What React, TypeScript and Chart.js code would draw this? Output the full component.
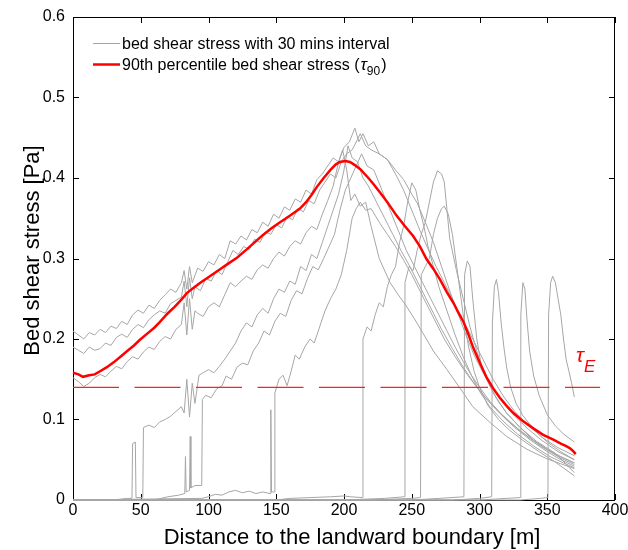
import React, { useEffect, useRef } from "react";
import { Chart, registerables } from "chart.js";
Chart.register(...registerables);

type Pt = [number, number];

const xTicks = [0, 50, 100, 150, 200, 250, 300, 350, 400];
const yTicks = [0, 0.1, 0.2, 0.3, 0.4, 0.5, 0.6];
const tauE = 0.14;
const tauELineX = [0, 389];

const curveA: Pt[] = [[0,0.21],[4,0.205],[8,0.2],[12,0.208],[16,0.205],[20,0.212],[24,0.208],[28,0.216],[32,0.213],[36,0.222],[40,0.218],[44,0.23],[48,0.236],[52,0.232],[56,0.242],[60,0.238],[64,0.248],[68,0.255],[72,0.262],[76,0.258],[80,0.27],[82,0.285],[84,0.262],[86,0.29],[88,0.27],[92,0.288],[96,0.284],[100,0.296],[104,0.292],[108,0.305],[112,0.3],[116,0.322],[120,0.318],[124,0.328],[128,0.323],[132,0.336],[136,0.332],[140,0.345],[144,0.34],[148,0.355],[152,0.35],[156,0.364],[160,0.36],[164,0.374],[168,0.37],[172,0.385],[176,0.38],[180,0.398],[184,0.405],[188,0.415],[192,0.425],[196,0.42],[200,0.438],[204,0.445],[208,0.462],[211,0.445],[214,0.455],[218,0.44],[222,0.445],[226,0.43],[232,0.423],[238,0.405],[244,0.385],[250,0.36],[256,0.335],[262,0.312],[268,0.29],[274,0.27],[280,0.25],[286,0.228],[292,0.21],[298,0.19],[304,0.17],[310,0.15],[318,0.128],[326,0.11],[336,0.093],[346,0.078],[358,0.065],[370,0.055]];

const curveB: Pt[] = [[0,0.19],[4,0.186],[8,0.182],[12,0.19],[16,0.186],[20,0.188],[24,0.195],[28,0.192],[32,0.202],[36,0.206],[40,0.202],[44,0.212],[48,0.218],[52,0.214],[56,0.224],[60,0.23],[64,0.235],[68,0.232],[72,0.244],[76,0.248],[80,0.252],[82,0.272],[84,0.24],[86,0.276],[88,0.25],[90,0.265],[94,0.26],[98,0.275],[102,0.272],[106,0.285],[110,0.28],[114,0.295],[118,0.31],[122,0.305],[126,0.315],[130,0.311],[134,0.324],[138,0.32],[142,0.333],[146,0.33],[150,0.342],[154,0.338],[158,0.352],[162,0.348],[166,0.362],[170,0.358],[174,0.372],[178,0.368],[182,0.385],[186,0.395],[190,0.405],[194,0.4],[198,0.42],[202,0.43],[206,0.435],[210,0.448],[212,0.455],[216,0.44],[220,0.435],[226,0.43],[232,0.423],[238,0.41],[244,0.398],[250,0.38],[254,0.369],[260,0.345],[266,0.32],[272,0.29],[278,0.26],[284,0.232],[290,0.205],[296,0.18],[302,0.16],[310,0.138],[318,0.12],[326,0.104],[336,0.088],[346,0.074],[358,0.06],[370,0.05]];

const curveC: Pt[] = [[0,0.152],[4,0.147],[8,0.141],[12,0.145],[16,0.152],[20,0.156],[24,0.153],[28,0.16],[32,0.166],[36,0.163],[40,0.172],[44,0.178],[48,0.175],[52,0.184],[56,0.19],[60,0.187],[64,0.197],[68,0.203],[72,0.2],[76,0.212],[80,0.218],[82,0.245],[84,0.205],[86,0.25],[88,0.212],[90,0.235],[92,0.232],[96,0.228],[100,0.24],[104,0.245],[108,0.24],[112,0.255],[116,0.27],[120,0.265],[124,0.272],[128,0.278],[132,0.274],[136,0.286],[140,0.292],[144,0.288],[148,0.3],[152,0.308],[156,0.303],[160,0.315],[164,0.322],[168,0.318],[172,0.332],[176,0.34],[180,0.336],[184,0.355],[188,0.372],[192,0.39],[196,0.42],[199,0.435],[202,0.41],[205,0.372],[208,0.38],[212,0.365],[216,0.37],[220,0.34],[226,0.3],[234,0.27],[240,0.255],[246,0.241],[252,0.225],[258,0.208],[266,0.185],[276,0.162],[286,0.138],[295,0.116],[308,0.096],[320,0.079],[335,0.063],[350,0.051],[360,0.045],[370,0.039]];

const curveD: Pt[] = [[0,0],[30,0],[40,0.002],[43.5,0.002],[44,0.07],[46,0.072],[46.5,0.003],[51.5,0.003],[52,0.09],[56,0.093],[60,0.09],[64,0.097],[68,0.1],[72,0.104],[76,0.11],[80,0.116],[82,0.108],[84,0.15],[86,0.103],[88,0.145],[90,0.12],[93,0.155],[96,0.158],[100,0.162],[104,0.158],[108,0.166],[112,0.175],[116,0.185],[120,0.195],[124,0.21],[128,0.22],[132,0.215],[136,0.23],[140,0.238],[144,0.232],[148,0.25],[152,0.262],[156,0.258],[160,0.272],[164,0.268],[168,0.29],[172,0.285],[176,0.305],[180,0.3],[184,0.32],[188,0.34],[192,0.36],[196,0.38],[200,0.41],[203,0.44],[206,0.425],[210,0.42],[214,0.4],[218,0.39],[224,0.37],[230,0.35],[236,0.33],[242,0.31],[248,0.292],[254,0.272],[260,0.252],[266,0.232],[272,0.212],[280,0.188],[288,0.165],[296,0.145],[304,0.128],[312,0.113],[320,0.1],[330,0.086],[340,0.074],[350,0.063],[360,0.054],[370,0.046]];

const curveE: Pt[] = [[0,0],[60,0],[70,0.004],[78,0.006],[82.5,0.008],[83,0.054],[83.5,0.01],[86,0.012],[86.5,0.079],[87,0.015],[90,0.018],[95,0.018],[95.5,0.125],[98,0.13],[102,0.127],[106,0.138],[110,0.142],[113,0.154],[117,0.15],[121,0.165],[125,0.17],[129,0.168],[133,0.185],[137,0.195],[141,0.21],[145,0.205],[149,0.222],[153,0.232],[157,0.228],[161,0.248],[165,0.26],[169,0.256],[173,0.275],[177,0.29],[181,0.286],[185,0.3],[189,0.315],[193,0.33],[197,0.36],[201,0.385],[205,0.4],[209,0.415],[213,0.43],[217,0.415],[222,0.41],[228,0.385],[234,0.36],[240,0.335],[246,0.31],[252,0.29],[258,0.27],[264,0.25],[270,0.23],[276,0.21],[282,0.19],[288,0.172],[294,0.155],[300,0.14],[308,0.122],[316,0.107],[326,0.092],[336,0.078],[346,0.066],[358,0.055],[370,0.046]];

const curveF: Pt[] = [[0,0],[95,0.002],[100,0.004],[105,0.007],[110,0.006],[115,0.01],[120,0.012],[125,0.009],[130,0.011],[135,0.008],[140,0.01],[145.5,0.008],[146,0.112],[146.5,0.01],[148.5,0.01],[149,0.133],[152,0.15],[155,0.155],[158,0.142],[161,0.16],[164,0.18],[167,0.175],[171,0.19],[175,0.2],[178,0.195],[182,0.215],[186,0.235],[190,0.25],[194,0.262],[198,0.28],[202,0.31],[206,0.35],[209,0.362],[212,0.37],[216,0.36],[220,0.362],[226,0.345],[232,0.33],[238,0.315],[244,0.298],[250,0.28],[256,0.26],[262,0.24],[268,0.22],[274,0.2],[282,0.178],[290,0.158],[298,0.14],[306,0.124],[316,0.106],[326,0.09],[338,0.074],[350,0.06],[360,0.05],[370,0.042]];

const curveG: Pt[] = [[0,0],[150,0],[160,0.002],[175,0.003],[190,0.004],[200,0.005],[205,0.004],[213.5,0.003],[214,0.2],[217,0.215],[220,0.21],[223,0.23],[226,0.245],[229,0.24],[232,0.265],[235,0.28],[238,0.29],[241,0.32],[244,0.34],[247,0.37],[250,0.394],[253,0.385],[256,0.36],[259,0.34],[262,0.315],[266,0.29],[270,0.265],[276,0.235],[282,0.205],[288,0.178],[294,0.155],[300,0.135],[308,0.115],[318,0.097],[328,0.082],[340,0.067],[352,0.054],[362,0.046],[370,0.04]];

const curveH: Pt[] = [[0,0],[200,0],[230,0.002],[244.5,0.004],[245,0.27],[248,0.29],[251,0.285],[254,0.31],[257,0.33],[260,0.345],[263,0.37],[266,0.395],[269,0.409],[272,0.405],[274,0.395],[276,0.36],[278,0.325],[283,0.285],[288,0.25],[293,0.215],[298,0.185],[304,0.155],[312,0.128],[320,0.108],[330,0.09],[342,0.073],[356,0.058],[370,0.034]];

const curveI: Pt[] = [[0,0],[220,0],[250,0.002],[256.5,0.003],[257,0.28],[260,0.29],[263,0.3],[266,0.33],[269,0.35],[272,0.362],[274,0.365],[277,0.355],[280,0.33],[284,0.28],[288,0.23],[292,0.19],[296,0.16],[300,0.14],[306,0.118],[314,0.1],[322,0.087],[332,0.074],[344,0.06],[356,0.047],[370,0.03]];

const curveJ: Pt[] = [[0,0],[250,0],[270,0.002],[288.5,0.004],[289,0.28],[291,0.297],[293,0.29],[295,0.25],[298,0.2],[301,0.17],[304,0.155],[308,0.14],[314,0.122],[320,0.108],[330,0.09],[340,0.074],[350,0.062],[360,0.052],[370,0.044]];

const curveK: Pt[] = [[0,0],[280,0],[300,0.002],[309,0.004],[309.5,0.22],[311,0.265],[312.5,0.274],[314,0.258],[316,0.22],[318,0.19],[320,0.165],[323,0.14],[327,0.12],[332,0.105],[340,0.088],[350,0.072],[360,0.06],[370,0.05]];

const curveL: Pt[] = [[0,0],[300,0],[320,0.002],[330,0.003],[330.5,0.23],[332,0.27],[333.5,0.262],[335,0.225],[337,0.185],[340,0.154],[344,0.13],[350,0.106],[356,0.092],[362,0.082],[370,0.072]];

const curveM: Pt[] = [[0,0],[330,0],[345,0.002],[350.5,0.003],[351,0.23],[352.5,0.27],[354,0.278],[356,0.27],[358,0.25],[360,0.23],[362,0.2],[364,0.174],[366,0.16],[368,0.145],[370,0.128]];

const tau90: Pt[] = [[0,0.158],[4,0.156],[7.4,0.153],[12,0.155],[16,0.156],[20,0.16],[25,0.165],[30,0.171],[35,0.178],[40,0.185],[45,0.192],[49.4,0.199],[55,0.207],[60,0.214],[64,0.221],[70,0.232],[75,0.24],[80,0.249],[84,0.257],[90,0.265],[95,0.271],[101,0.278],[108,0.286],[114,0.293],[121,0.301],[128,0.311],[134,0.32],[140,0.329],[146,0.337],[152,0.344],[160,0.353],[167.5,0.362],[172,0.37],[176,0.379],[180,0.389],[185,0.4],[190,0.41],[194,0.417],[197,0.42],[201,0.421],[204.4,0.42],[208,0.416],[212,0.411],[218,0.4],[222,0.392],[226.6,0.382],[232,0.37],[238.9,0.353],[245,0.34],[251,0.328],[256,0.315],[261,0.299],[266,0.287],[270.8,0.274],[276,0.258],[280.7,0.245],[284,0.234],[288,0.222],[292,0.205],[295.4,0.189],[300.4,0.17],[305,0.153],[310,0.139],[315,0.127],[320,0.117],[325,0.108],[332,0.098],[339.7,0.089],[347,0.081],[354.5,0.075],[360,0.07],[364,0.067],[367,0.064],[369.5,0.06],[371,0.057]];

const grayCurves: Pt[][] = [curveA, curveB, curveC, curveD, curveE, curveF, curveG, curveH, curveI, curveJ, curveK, curveL, curveM];

const legendGray = "bed shear stress with 30 mins interval";
const legendRed = "90th percentile bed shear stress (";
const xTitle = "Distance to the landward boundary [m]";
const yTitle = "Bed shear stress [Pa]";

const FONT = "'Liberation Sans', Arial, sans-serif";
const GRAY = "#a6a6a6";

const framePlugin = {
  id: "frame",
  beforeDatasetsDraw(chart: any) {
    const { ctx, chartArea: a } = chart;
    const xs = chart.scales.x;
    const ys = chart.scales.y;
    ctx.save();
    ctx.strokeStyle = "#000";
    ctx.lineWidth = 1;
    ctx.strokeRect(a.left + 0.5, a.top + 0.5, a.right - a.left - 1, a.bottom - a.top);
    ctx.beginPath();
    for (const v of xTicks) {
      const p = Math.round(xs.getPixelForValue(v)) + 0.5;
      ctx.moveTo(p, a.bottom);
      ctx.lineTo(p, a.bottom - 6);
      ctx.moveTo(p, a.top);
      ctx.lineTo(p, a.top + 6);
    }
    for (const v of yTicks) {
      const p = Math.round(ys.getPixelForValue(v)) + 0.5;
      ctx.moveTo(a.left, p);
      ctx.lineTo(a.left + 6, p);
      ctx.moveTo(a.right, p);
      ctx.lineTo(a.right - 6, p);
    }
    ctx.stroke();
    ctx.restore();
  },
  afterDatasetsDraw(chart: any) {
    const { ctx, chartArea: a } = chart;
    const xs = chart.scales.x;
    const ys = chart.scales.y;
    ctx.save();
    ctx.fillStyle = "#000";
    ctx.font = `16px ${FONT}`;
    ctx.textAlign = "center";
    ctx.textBaseline = "top";
    for (const v of xTicks) {
      ctx.fillText(String(v), xs.getPixelForValue(v), a.bottom + 3);
    }
    ctx.textAlign = "right";
    ctx.textBaseline = "middle";
    for (const v of yTicks) {
      ctx.fillText(String(v), a.left - 8, ys.getPixelForValue(v));
    }
    ctx.font = `22px ${FONT}`;
    ctx.textAlign = "center";
    ctx.textBaseline = "middle";
    ctx.fillText(xTitle, (a.left + a.right) / 2 + 8, 538);
    ctx.save();
    ctx.translate(33, (a.top + a.bottom) / 2 - 8);
    ctx.rotate(-Math.PI / 2);
    ctx.fillText(yTitle, 0, 0);
    ctx.restore();

    // legend
    ctx.lineWidth = 1;
    ctx.strokeStyle = GRAY;
    ctx.beginPath();
    ctx.moveTo(93, 43.5);
    ctx.lineTo(120, 43.5);
    ctx.stroke();
    ctx.strokeStyle = "#ff0000";
    ctx.lineWidth = 2.5;
    ctx.beginPath();
    ctx.moveTo(93, 64.5);
    ctx.lineTo(120, 64.5);
    ctx.stroke();
    ctx.fillStyle = "#000";
    ctx.font = `16px ${FONT}`;
    ctx.textAlign = "left";
    ctx.textBaseline = "alphabetic";
    ctx.fillText(legendGray, 122, 49);
    ctx.fillText(legendRed, 122, 70);
    let x = 122 + ctx.measureText(legendRed).width + 1;
    ctx.font = `italic 17px ${FONT}`;
    ctx.fillText("\u03c4", x, 70);
    x += ctx.measureText("\u03c4").width;
    ctx.font = `12px ${FONT}`;
    ctx.fillText("90", x, 75);
    x += ctx.measureText("90").width + 1;
    ctx.font = `16px ${FONT}`;
    ctx.fillText(")", x, 70);

    // tau_E label
    ctx.fillStyle = "#ff0000";
    ctx.font = `italic 21px ${FONT}`;
    ctx.fillText("\u03c4", 576, 362);
    ctx.font = `italic 17px ${FONT}`;
    ctx.fillText("E", 584, 372);
    ctx.restore();
  },
};

export default function App() {
  const ref = useRef<HTMLCanvasElement>(null);
  useEffect(() => {
    const canvas = ref.current;
    if (!canvas) return;
    const toXY = (c: Pt[]) => c.map(([x, y]) => ({ x, y }));
    const base = { pointRadius: 0, tension: 0, fill: false, clip: false as any };
    const datasets: any[] = [
      { ...base, data: toXY(tau90), borderColor: "#ff0000", borderWidth: 2.5, order: 0 },
      { ...base, data: tauELineX.map((x) => ({ x, y: tauE })), borderColor: "#ff2020", borderWidth: 1.2, borderDash: [46, 15.5], order: 1 },
      ...grayCurves.map((c) => ({ ...base, data: toXY(c), borderColor: GRAY, borderWidth: 1, order: 2 })),
    ];
    const chart = new Chart(canvas, {
      type: "line",
      data: { datasets },
      options: {
        animation: false,
        responsive: false,
        events: [],
        layout: { padding: { left: 73, top: 17, right: 13, bottom: 50 } },
        scales: {
          x: { type: "linear", min: 0, max: 400, display: false },
          y: { type: "linear", min: 0, max: 0.6, display: false },
        },
        plugins: { legend: { display: false }, tooltip: { enabled: false } },
      },
      plugins: [framePlugin],
    });
    return () => chart.destroy();
  }, []);
  return (
    <div style={{ position: "absolute", left: 0, top: 0, width: 628, height: 550, background: "#fff" }}>
      <canvas ref={ref} width={628} height={550} style={{ display: "block" }} />
    </div>
  );
}
